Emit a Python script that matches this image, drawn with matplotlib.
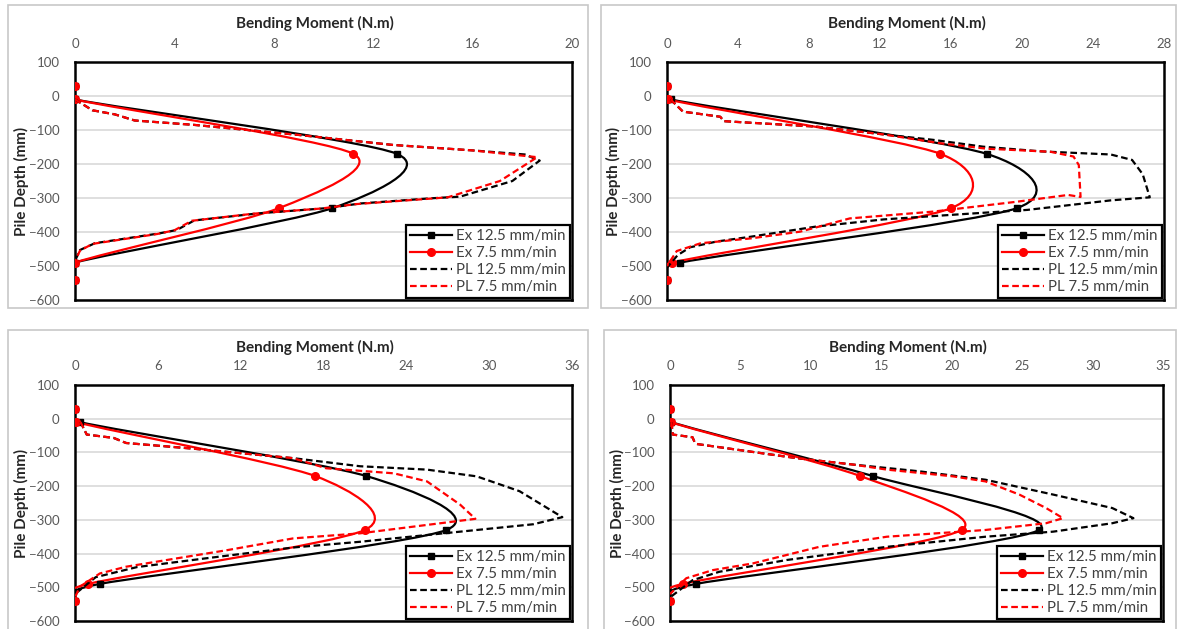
import numpy as np
import matplotlib
matplotlib.use("Agg")
import matplotlib.pyplot as plt
from matplotlib.path import Path
from matplotlib.patches import PathPatch, Rectangle
from matplotlib.lines import Line2D

plt.rcParams['font.family'] = ['Lato', 'DejaVu Sans']

# ---------------- data ----------------
depth_ex = [30, -10, -170, -330, -490, -540]

# panel 1
p1_ex125 = [0, 0, 12.95, 10.35, 0, 0]
p1_ex75 = [0, 0, 11.2, 8.2, 0, 0]
p1_pl125_x = [0, 0.7, 1.6, 2.4, 4.8, 8.8, 12.8, 16.0, 18.1, 18.7, 17.6, 15.5, 14.3, 11.5, 10.1, 7.4, 4.8, 4.1, 3.4, 0.8, 0.2, 0]
p1_pl125_y = [-10, -42, -54, -72, -85, -113, -144, -160, -172, -190, -250, -296, -301, -316, -330, -345, -366, -394, -404, -433, -453, -485]
p1_pl75_x = [0, 0.7, 1.6, 2.4, 4.8, 8.8, 12.8, 16.0, 18.6, 17.1, 15.0, 14.1, 11.3, 9.9, 7.2, 4.7, 4.0, 3.3, 0.7, 0.2, 0]
p1_pl75_y = [-10, -42, -54, -72, -85, -113, -144, -160, -180, -250, -298, -303, -318, -331, -346, -367, -395, -406, -435, -455, -485]

# panel 2
p2_ex125 = [0, 0.2, 18.0, 19.7, 0.75, 0]
p2_ex75 = [0, 0.05, 15.4, 16.0, 0.3, 0]
p2_pl125_x = [0.2, 0.9, 3.0, 3.2, 8.4, 12.2, 15.0, 17.8, 21.1, 25.0, 26.2, 26.8, 27.2, 25.0, 20.3, 15.9, 12.2, 8.4, 4.7, 2.8, 1.3, 0.6, 0]
p2_pl125_y = [-10, -46, -61, -74, -90, -113, -129, -149, -163, -172, -188, -230, -298, -307, -335, -350, -363, -384, -414, -428, -445, -468, -505]
p2_pl75_x = [0.2, 0.9, 3.0, 3.2, 8.4, 12.2, 15.4, 18.0, 21.6, 22.9, 23.2, 23.3, 22.6, 19.7, 15.0, 10.3, 7.5, 4.7, 1.9, 0.55, 0]
p2_pl75_y = [-10, -46, -61, -74, -90, -113, -139, -155, -164, -178, -203, -297, -291, -311, -340, -360, -399, -419, -433, -456, -500]

# panel 3
p3_ex125 = [0, 0.35, 21.1, 26.9, 1.8, 0]
p3_ex75 = [0, 0.1, 17.4, 21.0, 0.95, 0]
p3_pl125_x = [0.4, 0.85, 2.8, 3.7, 8.6, 15.8, 20.65, 25.5, 29.1, 32.2, 35.3, 33.2, 27.9, 20.65, 15.8, 9.5, 4.5, 1.5, 0]
p3_pl125_y = [-10, -47, -57, -72, -89, -117, -141, -151, -171, -215, -292, -313, -335, -365, -382, -414, -440, -470, -520]
p3_pl75_x = [0.4, 0.85, 2.8, 3.7, 8.6, 15.8, 18.2, 23.1, 25.5, 27.9, 29.0, 25.5, 20.65, 15.8, 11.0, 7.4, 3.7, 1.8, 0.36, 0]
p3_pl75_y = [-10, -47, -57, -72, -89, -117, -147, -162, -186, -255, -297, -315, -340, -355, -390, -414, -439, -459, -498, -530]

# panel 4
p4_ex125 = [0, 0.1, 14.4, 26.2, 1.85, 0]
p4_ex75 = [0, 0.05, 13.5, 20.7, 0.9, 0]
p4_pl125_x = [0.1, 0.2, 1.6, 1.75, 1.9, 9.0, 13.0, 17.7, 22.4, 27.2, 31.4, 32.9, 31.4, 27.2, 22.4, 15.4, 8.3, 3.5, 1.6, 0]
p4_pl125_y = [-10, -47, -55, -70, -75, -117, -136, -156, -181, -225, -265, -295, -310, -335, -350, -380, -419, -454, -479, -530]
p4_pl75_x = [0.1, 0.2, 1.6, 1.75, 1.9, 9.0, 13.0, 15.4, 20.1, 22.4, 24.8, 26.7, 27.9, 26.7, 22.4, 15.4, 10.6, 5.9, 3.05, 1.16, 0]
p4_pl75_y = [-10, -47, -55, -70, -75, -117, -136, -151, -171, -186, -225, -265, -295, -310, -330, -350, -380, -429, -449, -473, -520]

x_max = [20, 28, 36, 35]
x_step = [4, 4, 6, 5]
y_ticks = [100, 0, -100, -200, -300, -400, -500, -600]

labels = ["Ex 12.5 mm/min", "Ex 7.5 mm/min", "PL 12.5 mm/min", "PL 7.5 mm/min"]

panels = [
    (p1_ex125, p1_ex75, p1_pl125_x, p1_pl125_y, p1_pl75_x, p1_pl75_y),
    (p2_ex125, p2_ex75, p2_pl125_x, p2_pl125_y, p2_pl75_x, p2_pl75_y),
    (p3_ex125, p3_ex75, p3_pl125_x, p3_pl125_y, p3_pl75_x, p3_pl75_y),
    (p4_ex125, p4_ex75, p4_pl125_x, p4_pl125_y, p4_pl75_x, p4_pl75_y),
]

# ---------------- layout (pixels) ----------------
W, H = 1179, 629
fig = plt.figure(figsize=(W / 100, H / 100), dpi=100)
fig.patch.set_facecolor('white')

axes_px = [(75, 572, 62, 300), (667, 1164, 62, 300), (75, 572, 385, 621), (670, 1163, 385, 621)]
frames_px = [(8, 588, 5, 308), (601, 1176, 5, 308), (8, 588, 330, 640), (604, 1176, 330, 640)]

for (x0, x1, y0, y1) in frames_px:
    fig.add_artist(Rectangle((x0 / W, 1 - y1 / H), (x1 - x0) / W, (y1 - y0) / H,
                             transform=fig.transFigure, fill=False,
                             edgecolor='#C8C8C8', lw=1.2))

BLACK = '#000000'
RED = '#FF0000'
GREY = '#595959'
DASH = (0, (3, 1.6))


def smooth_path(x, y, k=0.13):
    pts = np.column_stack([x, y]).astype(float)
    n = len(pts)
    verts = [pts[0]]
    codes = [Path.MOVETO]
    for i in range(n - 1):
        p0 = pts[i - 1] if i > 0 else pts[i]
        p1 = pts[i]
        p2 = pts[i + 1]
        p3 = pts[i + 2] if i + 2 < n else pts[i + 1]
        c1 = p1 + (p2 - p0) * k
        c2 = p2 - (p3 - p1) * k
        verts += [c1, c2, p2]
        codes += [Path.CURVE4] * 3
    return Path(verts, codes)


for i, (ex125, ex75, pl125x, pl125y, pl75x, pl75y) in enumerate(panels):
    x0, x1, y0, y1 = axes_px[i]
    ax = fig.add_axes([x0 / W, 1 - y1 / H, (x1 - x0) / W, (y1 - y0) / H])
    ax.set_xlim(0, x_max[i])
    ax.set_ylim(-600, 100)
    ax.set_yticks(y_ticks)
    ax.set_xticks(np.arange(0, x_max[i] + 0.01, x_step[i]))
    ax.xaxis.tick_top()
    ax.tick_params(axis='both', length=0, labelsize=9.5, labelcolor=GREY)
    ax.tick_params(axis='x', pad=9)
    ax.tick_params(axis='y', pad=11)
    ax.grid(axis='y', color='#D9D9D9', lw=1.2)
    ax.set_axisbelow(True)
    for s in ax.spines.values():
        s.set_color(BLACK)
        s.set_linewidth(1.8)

    # smoothed experimental curves
    for xs, col in [(ex125, BLACK), (ex75, RED)]:
        ax.add_patch(PathPatch(smooth_path(xs, depth_ex), facecolor='none',
                               edgecolor=col, lw=1.6, zorder=3))
    ax.plot(ex125, depth_ex, linestyle='none', marker='s', ms=5, color=BLACK, zorder=4)
    ax.plot(ex75, depth_ex, linestyle='none', marker='o', ms=5.5, color=RED, zorder=4)

    ax.plot(pl125x, pl125y, color=BLACK, lw=1.6, linestyle=DASH, zorder=5)
    ax.plot(pl75x, pl75y, color=RED, lw=1.6, linestyle=DASH, zorder=5)

    handles = [
        Line2D([], [], color=BLACK, lw=1.6, marker='s', ms=5),
        Line2D([], [], color=RED, lw=1.6, marker='o', ms=5.5),
        Line2D([], [], color=BLACK, lw=1.6, linestyle=DASH),
        Line2D([], [], color=RED, lw=1.6, linestyle=DASH),
    ]
    leg = ax.legend(handles, labels, loc='lower right', borderaxespad=0.15,
                    fancybox=False, framealpha=1, edgecolor=BLACK,
                    fontsize=10.8, handlelength=2.8, handletextpad=0.3,
                    labelspacing=0.2, borderpad=0.25, numpoints=1)
    leg.get_frame().set_linewidth(1.6)
    for t in leg.get_texts():
        t.set_color('#404040')

    ax.text(0.482, 1.16, 'Bending Moment (N.m)', transform=ax.transAxes,
            ha='center', va='center', fontsize=11, fontweight='bold', color='#262626')
    ax.set_ylabel('Pile Depth (mm)', fontsize=11, fontweight='bold', color='#262626')
    ax.yaxis.set_label_coords(-0.092, 0.5)

fig.savefig('out.png', dpi=100)
